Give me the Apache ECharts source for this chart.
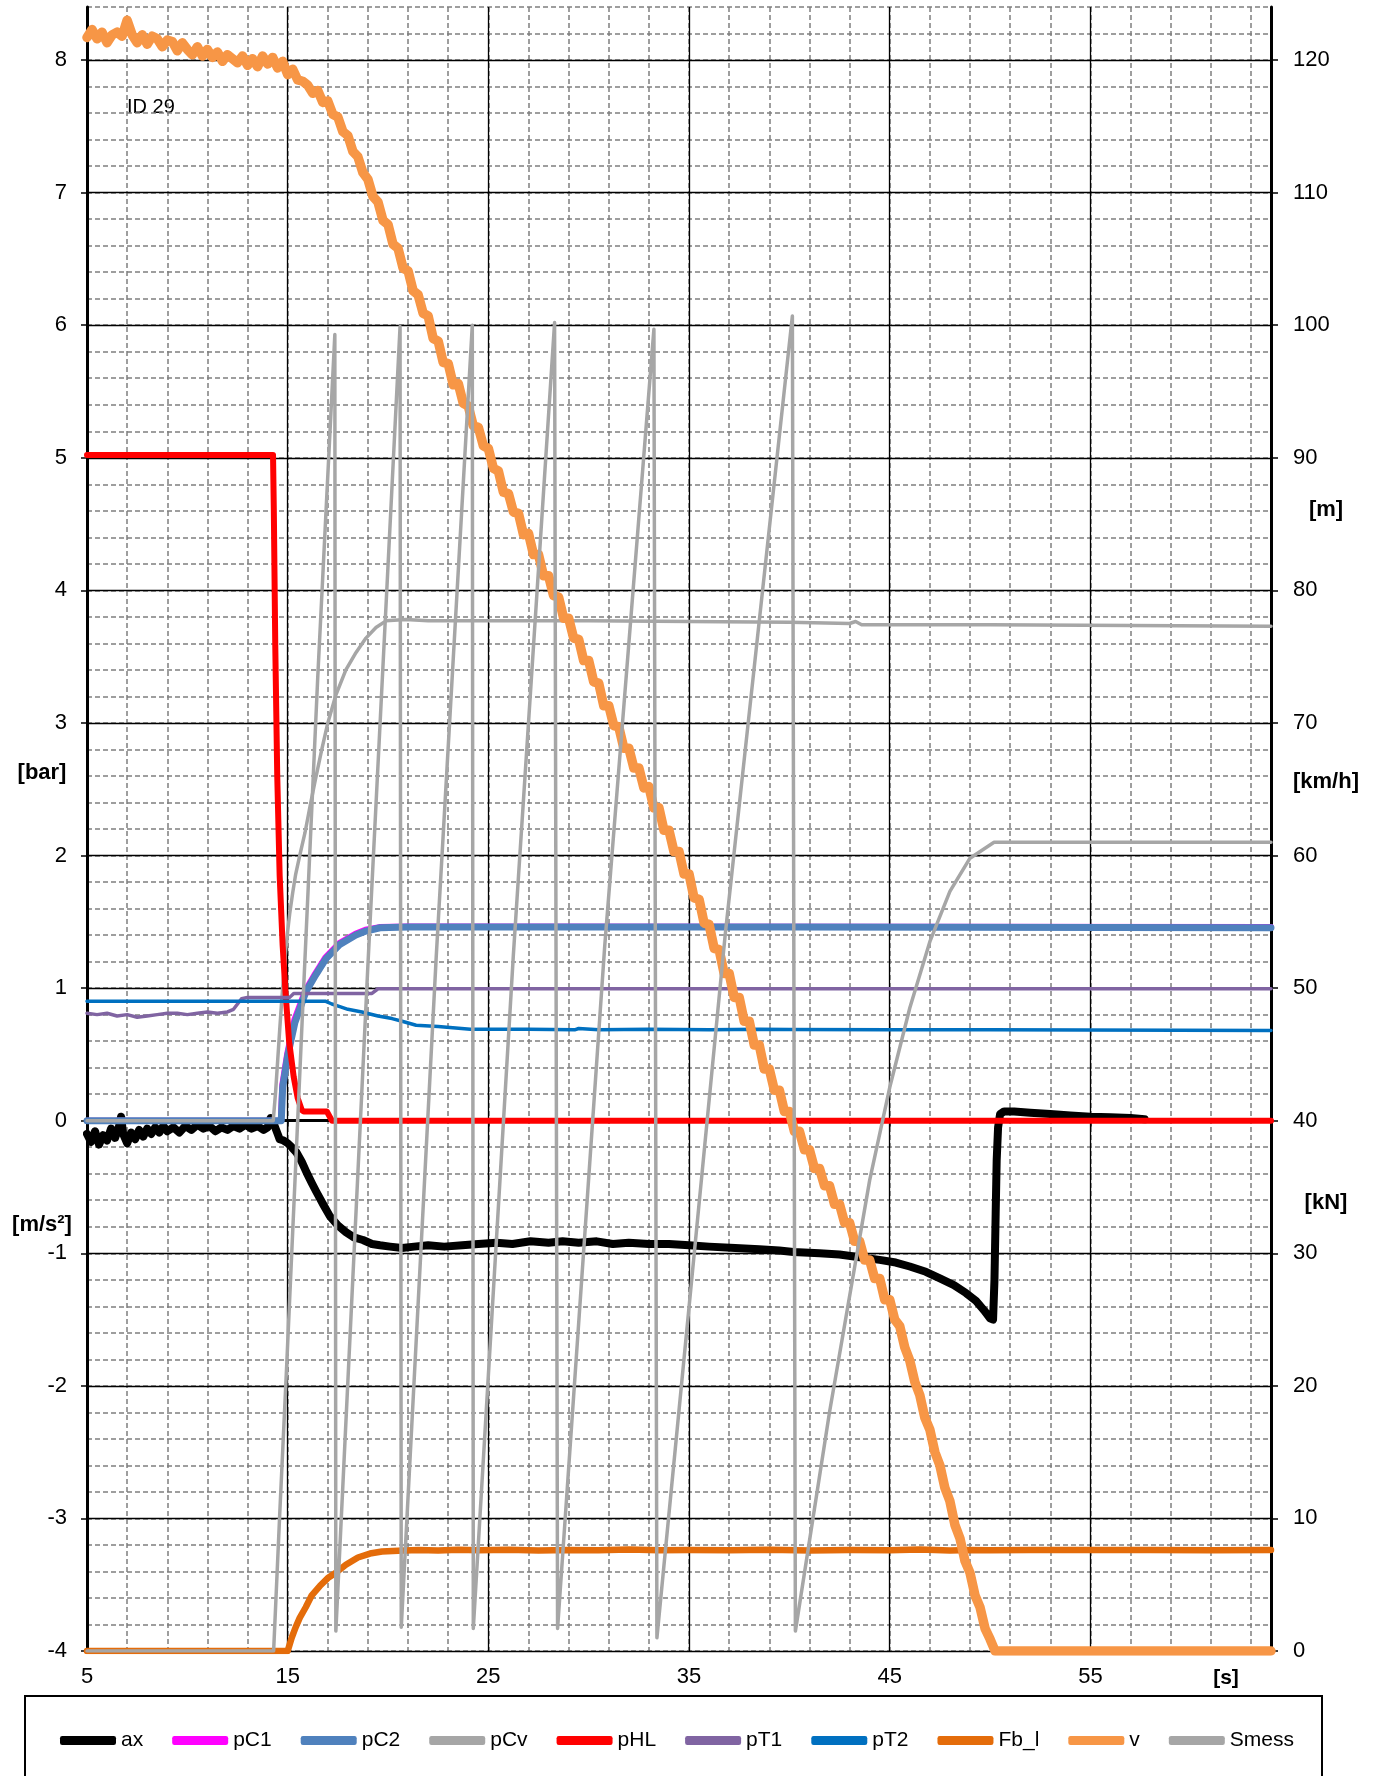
<!DOCTYPE html>
<html>
<head>
<meta charset="utf-8">
<title>ID 29</title>
<script src="https://cdn.jsdelivr.net/npm/echarts@6.0.0/dist/echarts.min.js"></script>
<style>
  html, body { margin: 0; padding: 0; background: #fff; }
  #chart { width: 1380px; height: 1776px; }
</style>
</head>
<body>
<div id="chart"></div>
<script>
const FONT = '"Liberation Sans", Arial, sans-serif';

// --- ticks ---
const xTicks = [5, 15, 25, 35, 45, 55];
const xMinorTicks = [5, 7, 9, 11, 13, 15, 17, 19, 21, 23, 25, 27, 29, 31, 33, 35, 37, 39, 41, 43, 45, 47, 49, 51, 53, 55, 57, 59, 61, 63];
const leftTicks = [-4, -3, -2, -1, 0, 1, 2, 3, 4, 5, 6, 7, 8];
const rightTicks = [0, 10, 20, 30, 40, 50, 60, 70, 80, 90, 100, 110, 120];
const seriesNames = ['ax', 'pC1', 'pC2', 'pCv', 'pHL', 'pT1', 'pT2', 'Fb_l', 'v', 'Smess'];

// --- left axis series: [s, value] ---
const ax = [
  [5.0, -0.10], [5.2, -0.16], [5.4, -0.08], [5.6, -0.18], [5.8, -0.11], [6.0, -0.15], [6.2, -0.06],
  [6.4, -0.13], [6.6, -0.04], [6.7, 0.03], [6.8, -0.10], [7.0, -0.17], [7.2, -0.09], [7.4, -0.14],
  [7.6, -0.07], [7.8, -0.12], [8.0, -0.06], [8.2, -0.10], [8.4, -0.05], [8.6, -0.09], [8.8, -0.04],
  [9.0, -0.08], [9.3, -0.05], [9.6, -0.09], [9.9, -0.04], [10.2, -0.07], [10.5, -0.03], [10.8, -0.06],
  [11.1, -0.04], [11.4, -0.08], [11.7, -0.05], [12.0, -0.07], [12.3, -0.04], [12.6, -0.06], [12.9, -0.03],
  [13.2, -0.06], [13.5, -0.04], [13.8, -0.07], [14.0, -0.05], [14.15, 0.02], [14.3, -0.02], [14.5, -0.10],
  [14.6, -0.14], [14.8, -0.15], [15.0, -0.17], [15.2, -0.20], [15.44, -0.24], [15.7, -0.31], [15.94, -0.39],
  [16.2, -0.47], [16.44, -0.54], [16.8, -0.64], [17.1, -0.72], [17.5, -0.79], [17.9, -0.84], [18.3, -0.88],
  [18.75, -0.90], [19.2, -0.93], [19.6, -0.94], [20.1, -0.95], [20.7, -0.96], [21.3, -0.95], [22.0, -0.94],
  [22.8, -0.95], [23.7, -0.94], [24.5, -0.93], [25.4, -0.92], [26.2, -0.93], [27.1, -0.91], [28.0, -0.92],
  [28.7, -0.91], [29.5, -0.92], [30.4, -0.91], [31.2, -0.93], [32.0, -0.92], [33.0, -0.93], [34.0, -0.93],
  [35.0, -0.94], [36.0, -0.95], [37.3, -0.96], [38.5, -0.97], [39.5, -0.98], [40.2, -0.99], [41.5, -1.00],
  [42.5, -1.01], [43.5, -1.03], [44.5, -1.05], [45.3, -1.07], [46.0, -1.10], [46.8, -1.14], [47.5, -1.19],
  [48.2, -1.24], [48.8, -1.30], [49.3, -1.36], [49.7, -1.43], [50.0, -1.49], [50.15, -1.50], [50.22, -1.20],
  [50.28, -0.70], [50.33, -0.30], [50.4, -0.05], [50.5, 0.05], [50.7, 0.07], [51.2, 0.07], [52, 0.06],
  [53, 0.05], [54, 0.04], [55, 0.03], [56, 0.025], [57, 0.02], [57.7, 0.01]
];
const pC1 = [
  [5, 0], [14.66, 0], [14.73, 0.27], [14.97, 0.50], [15.33, 0.76], [15.87, 0.98], [16.37, 1.11], [16.87, 1.23],
  [17.57, 1.34], [18.37, 1.41], [18.87, 1.44], [19.57, 1.46], [21, 1.465], [64, 1.46]
];
const pC2 = [
  [5, 0], [14.68, 0], [14.75, 0.25], [15.0, 0.49], [15.36, 0.74], [15.9, 0.97], [16.4, 1.10], [16.9, 1.22],
  [17.6, 1.33], [18.4, 1.40], [18.9, 1.43], [19.6, 1.455], [21, 1.46], [40, 1.46], [64, 1.455]
];
const pCv = [
  [5, 0], [14.28, 0], [14.4, 0.22], [14.5, 0.45], [14.6, 0.68], [14.7, 0.90], [14.8, 1.10], [14.9, 1.28],
  [15.0, 1.43], [15.1, 1.56], [15.25, 1.72], [15.4, 1.86], [15.6, 2.00], [15.86, 2.17], [16.1, 2.36],
  [16.35, 2.55], [16.7, 2.80], [17.0, 3.00], [17.4, 3.21], [17.9, 3.40], [18.4, 3.53], [18.9, 3.64],
  [19.4, 3.72], [19.9, 3.77], [20.9, 3.78], [22, 3.77], [30, 3.77], [40, 3.76], [43, 3.75], [43.3, 3.765],
  [43.6, 3.74], [50, 3.74], [64, 3.73]
];
const pHL = [
  [5, 5.02], [14.27, 5.02], [14.31, 4.60], [14.38, 3.60], [14.48, 2.60], [14.6, 1.85], [14.75, 1.32],
  [14.9, 0.95], [15.07, 0.60], [15.3, 0.33], [15.5, 0.17], [15.7, 0.08], [15.8, 0.07], [16.95, 0.07],
  [17.2, 0], [64, 0]
];
const pT1 = [
  [5, 0.81], [5.5, 0.80], [6, 0.81], [6.5, 0.79], [7, 0.80], [7.5, 0.78], [8, 0.79], [8.5, 0.80], [9, 0.81],
  [9.5, 0.81], [10, 0.80], [10.5, 0.81], [11, 0.82], [11.5, 0.81], [12, 0.82], [12.3, 0.84], [12.7, 0.92],
  [13, 0.93], [15.1, 0.93], [15.3, 0.96], [19.2, 0.96], [19.5, 0.995], [64, 0.995]
];
const pT2 = [
  [5, 0.90], [16.9, 0.90], [17.2, 0.88], [17.6, 0.86], [18.0, 0.84], [18.7, 0.82], [19.5, 0.79], [20.2, 0.77],
  [20.7, 0.75], [21.4, 0.72], [22.5, 0.71], [24.1, 0.69], [27, 0.69], [29.3, 0.685], [29.5, 0.695],
  [30.5, 0.685], [33, 0.69], [36, 0.685], [38.5, 0.69], [40, 0.687], [45, 0.685], [50, 0.685], [64, 0.68]
];

// --- right axis series: [s, value] ---
const Fb_l = [
  [5, 0], [15.0, 0], [15.2, 1.0], [15.4, 1.8], [15.6, 2.5], [15.9, 3.3], [16.2, 4.2], [16.6, 4.9],
  [17.0, 5.5], [17.4, 5.9], [17.9, 6.5], [18.5, 7.05], [19.1, 7.35], [19.7, 7.5], [20.5, 7.57],
  [21.5, 7.62], [22.5, 7.58], [23.5, 7.64], [24.5, 7.6], [26, 7.63], [27.5, 7.58], [29, 7.62],
  [30.5, 7.6], [32, 7.65], [33.5, 7.59], [35, 7.62], [37, 7.6], [39, 7.63], [41, 7.58], [43, 7.62],
  [45, 7.6], [46.5, 7.66], [48, 7.58], [49, 7.62], [50, 7.6], [52, 7.62], [55, 7.61], [58, 7.62],
  [61, 7.6], [64, 7.61]
];
const v = [
  [5.00, 121.7], [5.25, 122.3], [5.50, 121.6], [5.75, 122.1], [6.00, 121.3], [6.25, 121.9], [6.50, 122.1],
  [6.75, 121.8], [7.00, 123.0], [7.25, 121.9], [7.50, 121.3], [7.75, 121.9], [8.00, 121.2], [8.25, 121.8],
  [8.50, 121.6], [8.75, 121.0], [9.00, 121.5], [9.25, 121.4], [9.50, 120.7], [9.75, 121.3], [10.00, 120.8],
  [10.25, 120.4], [10.50, 121.0], [10.75, 120.3], [11.00, 120.8], [11.25, 120.2], [11.50, 120.6],
  [11.75, 119.9], [12.00, 120.4], [12.25, 120.1], [12.50, 119.8], [12.75, 120.3], [13.00, 119.6],
  [13.25, 120.1], [13.50, 119.5], [13.75, 120.3], [14.00, 119.7], [14.25, 120.2], [14.50, 119.4],
  [14.75, 119.9], [15.00, 118.9], [15.25, 119.3], [15.50, 118.5], [15.75, 118.4], [16.00, 118.1],
  [16.25, 117.5], [16.50, 117.7], [16.75, 116.8], [17.00, 116.9], [17.25, 115.9], [17.50, 115.7],
  [17.75, 114.6], [18.00, 114.3], [18.25, 113.1], [18.50, 112.7], [18.75, 111.5], [19.00, 111.0],
  [19.25, 109.7], [19.50, 109.3], [19.75, 107.9], [20.00, 107.6], [20.25, 106.1], [20.50, 105.8],
  [20.75, 104.3], [21.00, 104.1], [21.25, 102.6], [21.50, 102.3], [21.75, 100.9], [22.00, 100.7],
  [22.25, 99.0], [22.50, 98.8], [22.75, 97.2], [23.00, 97.1], [23.25, 95.5], [23.50, 95.6], [23.75, 94.1],
  [24.00, 93.9], [24.25, 92.4], [24.50, 92.3], [24.75, 90.9], [25.00, 90.7], [25.25, 89.2], [25.50, 89.0],
  [25.75, 87.4], [26.00, 87.3], [26.25, 85.9], [26.50, 85.8], [26.75, 84.2], [27.00, 84.3], [27.25, 82.7],
  [27.50, 82.7], [27.75, 81.1], [28.00, 81.1], [28.25, 79.6], [28.50, 79.5], [28.75, 77.9], [29.00, 77.9],
  [29.25, 76.4], [29.50, 76.3], [29.75, 74.7], [30.00, 74.7], [30.25, 73.1], [30.50, 73.0], [30.75, 71.3],
  [31.00, 71.3], [31.25, 69.8], [31.50, 69.7], [31.75, 68.1], [32.00, 68.1], [32.25, 66.6], [32.50, 66.6],
  [32.75, 65.1], [33.00, 65.2], [33.25, 63.6], [33.50, 63.6], [33.75, 61.9], [34.00, 61.9], [34.25, 60.3],
  [34.50, 60.3], [34.75, 58.6], [35.00, 58.6], [35.25, 56.8], [35.50, 56.7], [35.75, 54.9], [36.00, 54.8],
  [36.25, 53.0], [36.50, 52.9], [36.75, 51.1], [37.00, 51.1], [37.25, 49.3], [37.50, 49.3], [37.75, 47.5],
  [38.00, 47.5], [38.25, 45.7], [38.50, 45.7], [38.75, 43.9], [39.00, 43.9], [39.25, 42.3], [39.50, 42.3],
  [39.75, 40.7], [40.00, 40.7], [40.25, 39.2], [40.50, 39.2], [40.75, 37.8], [41.00, 37.8], [41.25, 36.4],
  [41.50, 36.4], [41.75, 35.1], [42.00, 35.1], [42.25, 33.7], [42.50, 33.7], [42.75, 32.3], [43.00, 32.3],
  [43.25, 30.9], [43.50, 30.9], [43.75, 29.5], [44.00, 29.5], [44.25, 28.1], [44.50, 28.1], [44.75, 26.5],
  [45.00, 26.5], [45.25, 25.0], [45.50, 24.5], [45.75, 22.9], [46.00, 21.9], [46.25, 20.3], [46.50, 19.3],
  [46.75, 17.6], [47.00, 16.7], [47.25, 15.0], [47.50, 14.0], [47.75, 12.3], [48.00, 11.3], [48.25, 9.5],
  [48.50, 8.5], [48.75, 6.8], [49.00, 5.9], [49.25, 4.2], [49.50, 3.3], [49.75, 1.7], [50.00, 0.9],
  [50.25, 0], [64, 0]
];
const Smess = [
  [5, 0], [14.3, 0], [14.6, 10.2], [14.95, 21.5], [15.7, 46.8], [16.5, 73.5], [17.35, 99.3],
  [17.4, 1.5], [19.0, 51.8], [20.6, 99.9],
  [20.66, 1.8], [22.4, 52.3], [24.2, 100],
  [24.25, 1.7], [26.25, 52.6], [28.3, 100.2],
  [28.45, 1.7], [30.8, 53.2], [33.25, 99.7],
  [33.4, 1.0], [36.8, 54], [40.15, 100.7],
  [40.3, 1.5], [42, 18], [44, 35.5], [45, 42.5], [46, 48.5], [47, 53.5], [48, 57.3], [49, 59.8],
  [50.2, 61], [51, 61], [64, 61]
];

function lineSeries(name, data, color, width, yAxisIndex) {
  return {
    name: name,
    type: 'line',
    data: data,
    xAxisIndex: 0,
    yAxisIndex: yAxisIndex,
    symbol: 'none',
    showSymbol: false,
    animation: false,
    lineStyle: { color: color, width: width, join: 'round', cap: 'round' },
    itemStyle: { color: color },
    emphasis: { disabled: true },
  };
}

const labelStyle = { fontSize: 22, color: '#000', fontFamily: FONT };
const axisLineStyle = { show: true, lineStyle: { color: '#000', width: 3 } };
const majorLine = { show: true, lineStyle: { color: '#000', width: 1.3 } };
const minorLine = { show: true, lineStyle: { color: '#7f7f7f', width: 1.5, type: [5, 3] } };

const option = {
  backgroundColor: '#fff',
  animation: false,
  textStyle: { fontFamily: FONT },
  grid: { left: 87, right: 109, top: 7, bottom: 125, containLabel: false },
  xAxis: [
    {
      type: 'value', min: 5, max: 64, interval: 10, position: 'bottom', z: 1,
      axisLine: axisLineStyle,
      axisTick: { show: true, length: 6, customValues: xTicks, lineStyle: { color: '#000', width: 1.5 } },
      axisLabel: Object.assign({ margin: 15, customValues: xTicks }, labelStyle),
      splitLine: majorLine,
    },
    {
      type: 'value', min: 5, max: 64, interval: 2, position: 'top', z: 0,
      axisLine: { show: false },
      axisTick: { show: false, customValues: xMinorTicks },
      axisLabel: { show: false },
      splitLine: minorLine,
    },
  ],
  yAxis: [
    {
      type: 'value', min: -4, max: 8.4, interval: 1, position: 'left', z: 1,
      axisLine: axisLineStyle,
      axisTick: { show: true, length: 6, customValues: leftTicks, lineStyle: { color: '#000', width: 1.5 } },
      axisLabel: Object.assign({ margin: 20, customValues: leftTicks }, labelStyle),
      splitLine: majorLine,
    },
    {
      type: 'value', min: 0, max: 124, interval: 10, position: 'right', z: 1,
      axisLine: axisLineStyle,
      axisTick: { show: true, length: 7, customValues: rightTicks, lineStyle: { color: '#000', width: 1.5 } },
      axisLabel: Object.assign({ margin: 22, customValues: rightTicks }, labelStyle),
      splitLine: { show: false },
    },
    {
      type: 'value', min: -4, max: 8.4, interval: 0.2, position: 'left', z: 0,
      axisLine: { show: false },
      axisTick: { show: false },
      axisLabel: { show: false },
      splitLine: minorLine,
    },
  ],
  legend: {
    data: seriesNames,
    left: 55,
    top: 1725,
    icon: 'roundRect',
    itemWidth: 56,
    itemHeight: 9,
    itemGap: 29,
    selectedMode: false,
    textStyle: { fontSize: 21, color: '#000', fontFamily: FONT },
  },
  graphic: [
    { type: 'rect', shape: { x: 25, y: 1696, width: 1297, height: 140 }, style: { fill: 'none', stroke: '#000', lineWidth: 2 }, silent: true },
    { type: 'text', x: 127, y: 107, style: { text: 'ID 29', font: '20px ' + FONT, fill: '#000', textVerticalAlign: 'middle' } },
    { type: 'text', x: 42, y: 773, style: { text: '[bar]', font: 'bold 22px ' + FONT, fill: '#000', textAlign: 'center', textVerticalAlign: 'middle' } },
    { type: 'text', x: 42, y: 1225, style: { text: '[m/s²]', font: 'bold 22px ' + FONT, fill: '#000', textAlign: 'center', textVerticalAlign: 'middle' } },
    { type: 'text', x: 1326, y: 510, style: { text: '[m]', font: 'bold 22px ' + FONT, fill: '#000', textAlign: 'center', textVerticalAlign: 'middle' } },
    { type: 'text', x: 1326, y: 782, style: { text: '[km/h]', font: 'bold 22px ' + FONT, fill: '#000', textAlign: 'center', textVerticalAlign: 'middle' } },
    { type: 'text', x: 1326, y: 1203, style: { text: '[kN]', font: 'bold 22px ' + FONT, fill: '#000', textAlign: 'center', textVerticalAlign: 'middle' } },
    { type: 'text', x: 1226, y: 1678, style: { text: '[s]', font: 'bold 21px ' + FONT, fill: '#000', textAlign: 'center', textVerticalAlign: 'middle' } },
  ],
  series: [
    lineSeries('ax', ax, '#000000', 8, 0),
    lineSeries('pC1', pC1, '#FF00FF', 6, 0),
    lineSeries('pC2', pC2, '#4F81BD', 7, 0),
    lineSeries('pCv', pCv, '#A6A6A6', 3.5, 0),
    lineSeries('pHL', pHL, '#FF0000', 6, 0),
    lineSeries('pT1', pT1, '#8064A2', 3.5, 0),
    lineSeries('pT2', pT2, '#0070C0', 3.5, 0),
    lineSeries('Fb_l', Fb_l, '#E46C0A', 6.5, 1),
    lineSeries('v', v, '#F79646', 9.5, 1),
    lineSeries('Smess', Smess, '#A6A6A6', 3.5, 1),
  ],
};

const chart = echarts.init(document.getElementById('chart'), null, { renderer: 'canvas' });
chart.setOption(option);
</script>
</body>
</html>
